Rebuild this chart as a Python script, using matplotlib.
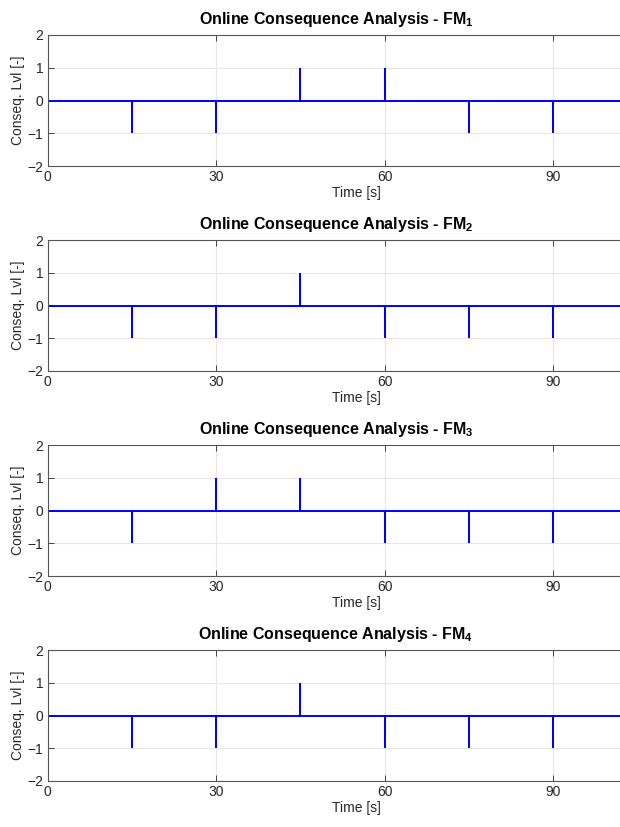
import matplotlib
matplotlib.use("Agg")
import matplotlib.pyplot as plt
import numpy as np

plt.rcParams["font.family"] = ["Liberation Sans", "DejaVu Sans"]
plt.rcParams["mathtext.fontset"] = "custom"
plt.rcParams["mathtext.rm"] = "Liberation Sans"
plt.rcParams["mathtext.bf"] = "Liberation Sans:bold"

# event times and consequence level per failure mode
event_times = [15, 30, 45, 60, 75, 90]
fm_names = ["1", "2", "3", "4"]
fm1_levels = [-1, -1, 1, 1, -1, -1]
fm2_levels = [-1, -1, 1, -1, -1, -1]
fm3_levels = [-1, 1, 1, -1, -1, -1]
fm4_levels = [-1, -1, 1, -1, -1, -1]
t_end = 110

x_ticks = [0, 30, 60, 90]
y_ticks = [-2, -1, 0, 1, 2]

DARK = "#262626"


def signal(times, levels):
    xs, ys = [0], [0]
    for t, lv in zip(times, levels):
        xs += [t, t, t]
        ys += [0, lv, 0]
    xs.append(t_end)
    ys.append(0)
    return np.array(xs, float), np.array(ys, float)


fig = plt.figure(figsize=(6.2, 8.27), dpi=100)
W, H = 620, 827
left_px, px_per_unit = 47.5, 5.62
tops = [35, 240, 445, 650]
ax_h = 131

for name, levels, top in zip(fm_names,
                             [fm1_levels, fm2_levels, fm3_levels, fm4_levels],
                             tops):
    ax = fig.add_axes([left_px / W, 1 - (top + ax_h) / H,
                       t_end * px_per_unit / W, ax_h / H])
    xs, ys = signal(event_times, levels)
    ax.plot(xs, ys, color="#0000ff", lw=1.4, solid_joinstyle="miter")
    ax.set_xlim(0, t_end)
    ax.set_ylim(-2, 2)
    ax.set_xticks(x_ticks)
    ax.set_yticks(y_ticks)
    ax.grid(True, color="#e6e6e6", lw=0.8)
    ax.set_axisbelow(True)
    ax.tick_params(direction="in", length=4, width=0.6, colors=DARK,
                   labelsize=10, top=True, right=True, pad=3)
    for sp in ax.spines.values():
        sp.set_color("#555555")
        sp.set_linewidth(0.8)
    ax.set_xlabel("Time [s]", fontsize=10, color=DARK, labelpad=1)
    ax.set_ylabel("Conseq. Lvl [-]", fontsize=10, color=DARK, labelpad=2)
    ax.set_title(r"Online Consequence Analysis - FM$_\mathbf{" + name + "}$",
                 fontsize=11.5, fontweight="bold", pad=8,
                 x=(336 - left_px) / (t_end * px_per_unit))

fig.savefig("out.png", dpi=100)
